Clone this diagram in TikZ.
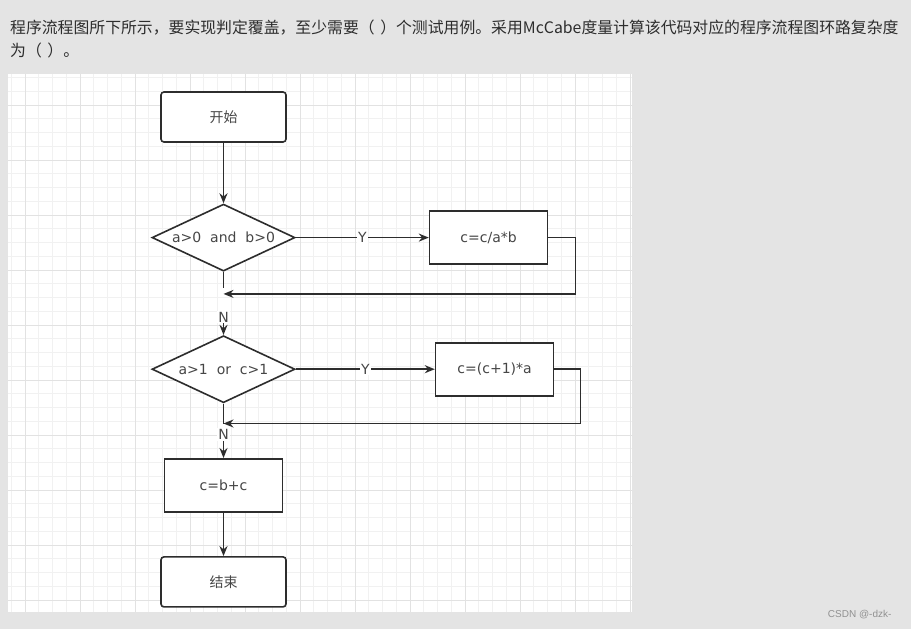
\documentclass[tikz,border=0pt]{standalone}
\usepackage{fontspec}
\setmainfont{DejaVu Sans}
\newfontfamily\cjk{Noto Sans CJK SC}
\newfontfamily\marca{Liberation Sans}
\usetikzlibrary{arrows.meta,positioning,shapes.geometric}
\definecolor{pagegray}{RGB}{228,228,228}
\definecolor{gridminor}{RGB}{241,241,241}
\definecolor{gridmajor}{RGB}{226,226,226}
\definecolor{inkgray}{RGB}{45,45,45}
\definecolor{textgray}{RGB}{70,70,70}
\tikzset{
  inicio/.style={
    rounded corners=3pt,
    draw=inkgray,
    line width=1.6pt,
    fill=white,
    minimum width=125pt,
    minimum height=50pt,
    text=textgray,
    font=\cjk\fontsize{14}{16}\selectfont
  },
  proceso/.style={
    draw=inkgray,
    line width=1.6pt,
    fill=white,
    minimum width=118pt,
    minimum height=53pt,
    text=textgray,
    font=\fontsize{14}{16}\selectfont
  },
  decision/.style={
    diamond,
    draw=inkgray,
    line width=1.6pt,
    fill=white,
    shape aspect=2.1,
    inner sep=0pt,
    minimum width=143pt,
    minimum height=67pt,
    text=textgray,
    font=\fontsize{14}{16}\selectfont
  },
  etiqueta/.style={
    fill=white,
    inner sep=1pt,
    text=textgray,
    font=\fontsize{14}{16}\selectfont
  },
  linea/.style={
    line width=1.6pt,
    inkgray
  },
  arrow/.style={
    -{Stealth[length=10pt,width=8pt]},
    line width=1.6pt,
    inkgray
  }
}

\begin{document}
\begin{tikzpicture}[x=1pt,y=-1pt]
\useasboundingbox (0,0) rectangle (911,629);
\fill[pagegray] (0,0) rectangle (911,629);
\fill[white] (8,74) rectangle (632,612);
\foreach \k in {0,...,45}
  \draw[gridminor,line width=1pt] ({11.25+13.75*\k},74) -- ++(0,538);
\foreach \k in {0,...,38}
  \draw[gridminor,line width=1pt] (8,{77.5+13.75*\k}) -- ++(624,0);
\foreach \k in {0,...,11}
  \draw[gridmajor,line width=1pt] ({25+55*\k},74) -- ++(0,538);
\foreach \k in {0,...,9}
  \draw[gridmajor,line width=1pt] (8,{105+55*\k}) -- ++(624,0);

\node[anchor=base west,align=left,inner sep=0pt,text=inkgray,font=\cjk\fontsize{15.85}{22}\selectfont] (enunciado) at (10,56)
  {程序流程图所下所示，要实现判定覆盖，至少需要（\hspace{0.35em}）个测试用例。采用McCabe度量计算该代码对应的程序流程图环路复杂度\\为（\hspace{0.35em}）。};

\node[inicio] (inicio) at (223.5,117) {开始};
\node[decision,below=60.5pt of inicio] (cond1) {a>0\ \ and\ \ b>0};
\node[proceso,right=133pt of cond1] (asig1) {c=c/a*b};
\node[decision,below=63pt of cond1] (cond2) {a>1\ \ or\ \ c>1};
\node[proceso,right=139pt of cond2] (asig2) {c=(c+1)*a};
\node[proceso,below=54.5pt of cond2] (asig3) {c=b+c};
\node[inicio,below=43.5pt of asig3] (fin) {结束};

\coordinate (tope1) at ([yshift=-16pt]cond1.south);
\coordinate (retorno1) at ([yshift=-22pt]cond1.south);
\coordinate (retorno2) at ([yshift=-20pt]cond2.south);
\node[etiqueta] (no1) at ([yshift=-45pt]cond1.south) {N};
\node[etiqueta] (no2) at ([yshift=-31pt]cond2.south) {N};

\draw[arrow] (inicio) -- (cond1);
\draw[arrow] (cond1) -- node[etiqueta] {Y} (asig1);
\draw[arrow] (asig1.east) -- ++(27,0) |- (retorno1);
\draw[linea] (cond1.south) -- (tope1);
\draw[arrow] (no1) -- (cond2);
\draw[arrow] (cond2) -- node[etiqueta] {Y} (asig2);
\draw[arrow] (asig2.east) -- ++(26,0) |- (retorno2);
\draw[linea] (cond2.south) -- (retorno2);
\draw[arrow] (no2) -- (asig3);
\draw[arrow] (asig3) -- (fin);

\node[anchor=east,text={rgb,255:red,145;green,145;blue,145},font=\marca\fontsize{10}{12}\selectfont] (firma) at (895,615) {CSDN @-dzk-};
\end{tikzpicture}
\end{document}
